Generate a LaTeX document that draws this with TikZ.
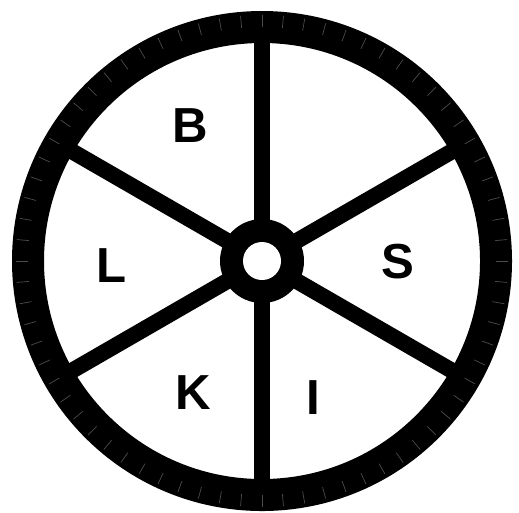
\documentclass[tikz,border=0pt]{standalone}
\usepackage{fontspec}
\setmainfont{Liberation Sans}
\usepackage{tikz}
\usetikzlibrary{calc}

\tikzset{
    letter/.style={font=\fontsize{28}{28}\selectfont\bfseries, inner sep=0pt},
    spoke/.style={line width=0.32cm}
}

\begin{document}
\begin{tikzpicture}[x=0.02cm, y=-0.02cm]
    % Canvas
    \useasboundingbox (0,0) rectangle (519,512);
    \coordinate (hub) at (262,261);

    % Rim of the wheel
    \draw[line width=0.64cm] (hub) circle (234);

    % Faint ticks on the rim
    \foreach \a in {0,5,...,355} {
        \draw[gray!60!black, line width=0.4pt] ($(hub)+(\a:234)$) -- ($(hub)+(\a:246)$);
    }

    % Spokes
    \foreach \a in {30,90,150,210,270,330} {
        \draw[spoke] (hub) -- ($(hub)+(\a:222)$);
    }

    % Hub with its hole
    \fill (hub) circle (42);
    \fill[white] (hub) circle (19);

    % Letters
    \node[letter] (b) at (190,126) {B};
    \node[letter] (l) at (112,266) {L};
    \node[letter] (s) at (398,262) {S};
    \node[letter] (k) at (193,393) {K};
    \node[letter] (i) at (313,398) {I};
\end{tikzpicture}
\end{document}
